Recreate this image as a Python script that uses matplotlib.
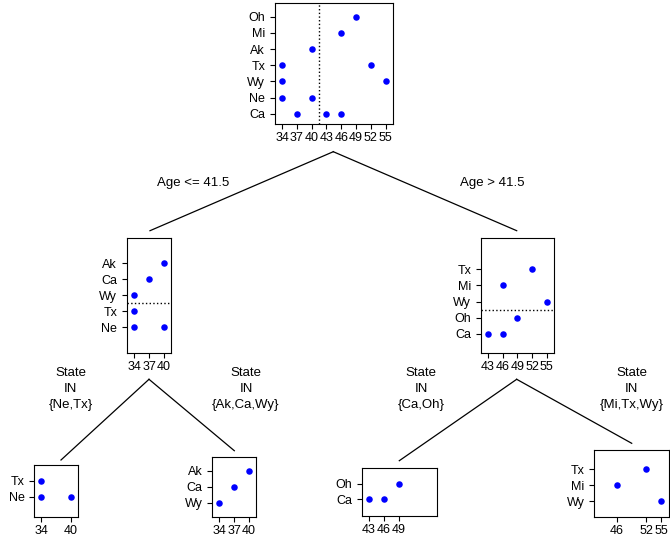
import numpy as np
import matplotlib as mpl

mpl.use("Agg")
from matplotlib import pyplot as plt

plt.rcParams['font.family'] = ['Liberation Sans', 'DejaVu Sans']

# 根节点数据: 每个州的年龄
root_states = ['Ca', 'Ne', 'Wy', 'Tx', 'Ak', 'Mi', 'Oh']
root_state = ['Ca', 'Ca', 'Ca', 'Ne', 'Ne', 'Wy', 'Wy', 'Tx', 'Tx', 'Ak', 'Mi', 'Oh']
root_age = [37, 43, 46, 34, 40, 34, 55, 34, 52, 40, 46, 49]

# Age <= 41.5
left_states = ['Ne', 'Tx', 'Wy', 'Ca', 'Ak']
left_state = ['Ne', 'Ne', 'Tx', 'Wy', 'Ca', 'Ak']
left_age = [34, 40, 34, 34, 37, 40]

# Age > 41.5
right_states = ['Ca', 'Oh', 'Wy', 'Mi', 'Tx']
right_state = ['Ca', 'Ca', 'Oh', 'Wy', 'Mi', 'Tx']
right_age = [43, 46, 49, 55, 46, 52]

# 叶子节点
leaf1_states = ['Ne', 'Tx']
leaf1_state = ['Ne', 'Ne', 'Tx']
leaf1_age = [34, 40, 34]

leaf2_states = ['Wy', 'Ca', 'Ak']
leaf2_state = ['Wy', 'Ca', 'Ak']
leaf2_age = [34, 37, 40]

leaf3_states = ['Ca', 'Oh']
leaf3_state = ['Ca', 'Ca', 'Oh']
leaf3_age = [43, 46, 49]

leaf4_states = ['Wy', 'Mi', 'Tx']
leaf4_state = ['Wy', 'Mi', 'Tx']
leaf4_age = [55, 46, 52]

split_labels = ['Age <= 41.5', 'Age > 41.5',
                'State\nIN\n{Ne,Tx}', 'State\nIN\n{Ak,Ca,Wy}',
                'State\nIN\n{Ca,Oh}', 'State\nIN\n{Mi,Tx,Wy}']

W, H = 670, 537
f = plt.figure(figsize=(W / 100, H / 100), dpi=100)

# 背景坐标系，像素坐标
bg = f.add_axes([0, 0, 1, 1])
bg.set_xlim(0, W)
bg.set_ylim(H, 0)
bg.axis('off')


def panel(box, xlim, ylim, states, st, age, vsplit=None, hsplit=None):
    l, t, r, b = box
    ax = f.add_axes([l / W, 1 - b / H, (r - l) / W, (b - t) / H])
    ypos = [states.index(s) + 1 for s in st]
    ax.scatter(age, ypos, s=22, color='blue', zorder=3, linewidths=0)
    ax.set_xlim(xlim)
    ax.set_ylim(ylim)
    ax.set_xticks(sorted(set(age)))
    ax.set_yticks(range(1, len(states) + 1))
    ax.set_yticklabels(states)
    ax.tick_params(direction='out', length=3.6, width=0.8, labelsize=9, colors='black')
    ax.tick_params(axis='x', pad=2.2)
    ax.tick_params(axis='y', pad=3.5)
    for sp in ax.spines.values():
        sp.set_linewidth(0.8)
    if vsplit is not None:
        ax.axvline(vsplit, color='black', linestyle=':', linewidth=1)
    if hsplit is not None:
        ax.axhline(hsplit, color='black', linestyle=':', linewidth=1)
    return ax


panel((275, 3, 393, 124), (32.58, 56.48), (0.36, 7.85), root_states, root_state, root_age, vsplit=41.5)
panel((127, 237.7, 171, 353), (32.53, 41.41), (-0.62, 6.58), left_states, left_state, left_age, hsplit=2.5)
panel((481, 237.7, 554, 353), (41.57, 56.49), (-0.17, 6.93), right_states, right_state, right_age, hsplit=2.5)
panel((34.3, 465, 78, 517), (32.66, 41.4), (-0.23, 2.96), leaf1_states, leaf1_state, leaf1_age)
panel((212.3, 457.3, 256, 517), (32.57, 41.49), (0.13, 3.83), leaf2_states, leaf2_state, leaf2_age)
panel((362.3, 467.5, 436.7, 515.7), (41.65, 56.68), (-0.05, 3.04), leaf3_states, leaf3_state, leaf3_age)
panel((594.3, 450, 669.3, 517), (41.36, 56.7), (0.02, 4.2), leaf4_states, leaf4_state, leaf4_age)

# 树的连线
edges = [((333.3, 151.7), (150, 230.7)), ((333.3, 151.7), (516.7, 230.7)),
         ((149, 379.3), (61, 460)), ((149, 379.3), (234.3, 450.7)),
         ((516.7, 379.3), (399.3, 460.7)), ((516.7, 379.3), (631.7, 443.3))]
for p0, p1 in edges:
    bg.plot([p0[0], p1[0]], [p0[1], p1[1]], color='black', linewidth=0.9)

label_pos = [(192.7, 182.7), (492.3, 182.7), (70.7, 389.3), (246, 389.3), (421, 389.3), (631.7, 389.3)]
for txt, (x, y) in zip(split_labels, label_pos):
    bg.text(x, y, txt, ha='center', va='center', fontsize=9.5, linespacing=1.45)

f.savefig('out.png', dpi=100)
